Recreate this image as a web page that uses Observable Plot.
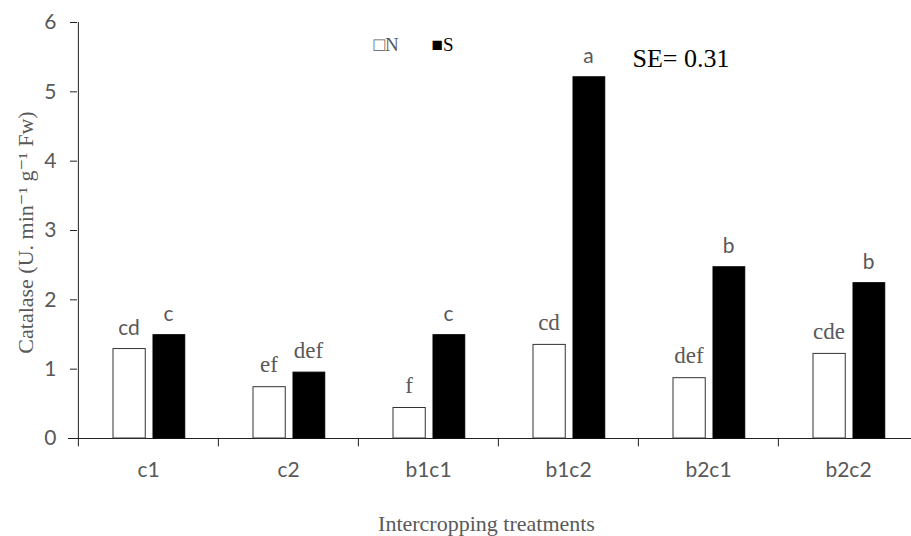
<!DOCTYPE html>
<html>
<head>
<meta charset="utf-8">
<script src="https://cdn.jsdelivr.net/npm/d3@7"></script>
<script src="https://cdn.jsdelivr.net/npm/@observablehq/plot@0.6"></script>
<style>
  html, body { margin: 0; padding: 0; background: #fff; }
  #chart svg { display: block; }
</style>
</head>
<body>
<div id="chart"></div>
<script>
const categories = ["c1", "c2", "b1c1", "b1c2", "b2c1", "b2c2"];
const nValues = [1.29, 0.74, 0.44, 1.35, 0.87, 1.22];
const sValues = [1.49, 0.95, 1.49, 5.21, 2.47, 2.24];
const nLetters = ["cd", "ef", "f", "cd", "def", "cde"];
const sLetters = ["c", "def", "c", "a", "b", "b"];
const nLetterSerif = [false, true, true, true, true, true];
const sLetterSerif = [false, true, false, false, false, false];
const yTicks = [0, 1, 2, 3, 4, 5, 6];
const seText = "SE= 0.31";

const nData = categories.map((c, i) => ({cat: c, v: nValues[i], letter: nLetters[i], serif: nLetterSerif[i]}));
const sData = categories.map((c, i) => ({cat: c, v: sValues[i], letter: sLetters[i], serif: sLetterSerif[i]}));

const gray = "#595959";
const sans = "Lato, 'Open Sans', sans-serif";
const serif = "'Liberation Serif', 'DejaVu Serif', serif";
const W = 911, H = 536;
const x0 = 77, x1 = 918.5;
const step = (x1 - x0) / categories.length;

const letterMarks = (data, dx, isSerif) => Plot.text(data.filter(d => d.serif === isSerif), {
  x: "cat", y: "v", text: "letter", dx, dy: isSerif ? -15 : -14,
  lineAnchor: "bottom", textAnchor: "middle", fill: gray,
  fontFamily: isSerif ? serif : sans, fontSize: isSerif ? 23 : 21
});

const chart = Plot.plot({
  width: W, height: H,
  marginLeft: x0, marginTop: 22, marginBottom: 98, marginRight: 0,
  x: {type: "band", domain: categories, range: [x0, x1], paddingInner: 0, paddingOuter: 0, axis: null},
  y: {domain: [0, 6], axis: null},
  style: {background: "#fff", overflow: "visible"},
  marks: [
    // y axis
    Plot.axisY({ticks: yTicks, tickSize: 7, tickPadding: 14, tickFormat: d3.format("d"),
      fontSize: 21, fontFamily: sans, fill: gray, stroke: "#222", label: null}),
    Plot.ruleX([0], {x: () => categories[0], dx: -step / 2, y1: -0.12, y2: 6, stroke: "#222", strokeWidth: 1}),
    // x baseline
    Plot.ruleY([0], {stroke: "#222", strokeWidth: 1, insetLeft: -9}),
    // category boundary ticks
    Plot.ruleX(categories.slice(1), {x: d => d, dx: -step / 2, y1: 0, y2: -0.12, stroke: "#222"}),
    // x tick labels
    Plot.text(categories, {x: d => d, y: 0, dy: 32, text: d => d, lineAnchor: "middle",
      fontSize: 21, fontFamily: sans, fill: gray}),
    // bars
    Plot.barY(nData, {x: "cat", y: "v", fill: "#fff", stroke: "#333", strokeWidth: 1,
      insetLeft: 35, insetRight: step - 67.5}),
    Plot.barY(sData, {x: "cat", y: "v", fill: "#000", stroke: "#000", strokeWidth: 1,
      insetLeft: 75, insetRight: step - 107}),
    // significance letters
    letterMarks(nData, -19.5, true), letterMarks(nData, -19.5, false),
    letterMarks(sData, 20, true), letterMarks(sData, 20, false),
    // SE text
    Plot.text([seText], {frameAnchor: "top-left", dx: 632 - x0, dy: 66 - 22, text: d => d,
      lineAnchor: "bottom", textAnchor: "start", fontFamily: serif, fontSize: 26, fill: "#000"}),
    // legend
    Plot.text(["N"], {frameAnchor: "top-left", dx: 373 - x0, dy: 50 - 22, text: d => "\u25A1" + d,
      lineAnchor: "bottom", textAnchor: "start", fontFamily: serif, fontSize: 19, fill: gray}),
    Plot.text(["S"], {frameAnchor: "top-left", dx: 431 - x0, dy: 50 - 22, text: d => "\u25A0" + d,
      lineAnchor: "bottom", textAnchor: "start", fontFamily: serif, fontSize: 19, fill: "#000"}),
    // axis titles
    Plot.text(["Intercropping treatments"], {frameAnchor: "bottom-left", dx: 486 - x0, dy: 530 - 438,
      lineAnchor: "bottom", textAnchor: "middle", text: d => d, fontFamily: serif, fontSize: 22, fill: gray}),
    Plot.text(["Catalase (U. min\u207B\u00B9 g\u207B\u00B9 Fw)"], {frameAnchor: "top-left", dx: 25 - x0, dy: 232 - 22,
      rotate: -90, textAnchor: "middle", lineAnchor: "middle", text: d => d, fontFamily: serif, fontSize: 22, fill: gray})
  ]
});
document.getElementById("chart").appendChild(chart);
</script>
</body>
</html>
